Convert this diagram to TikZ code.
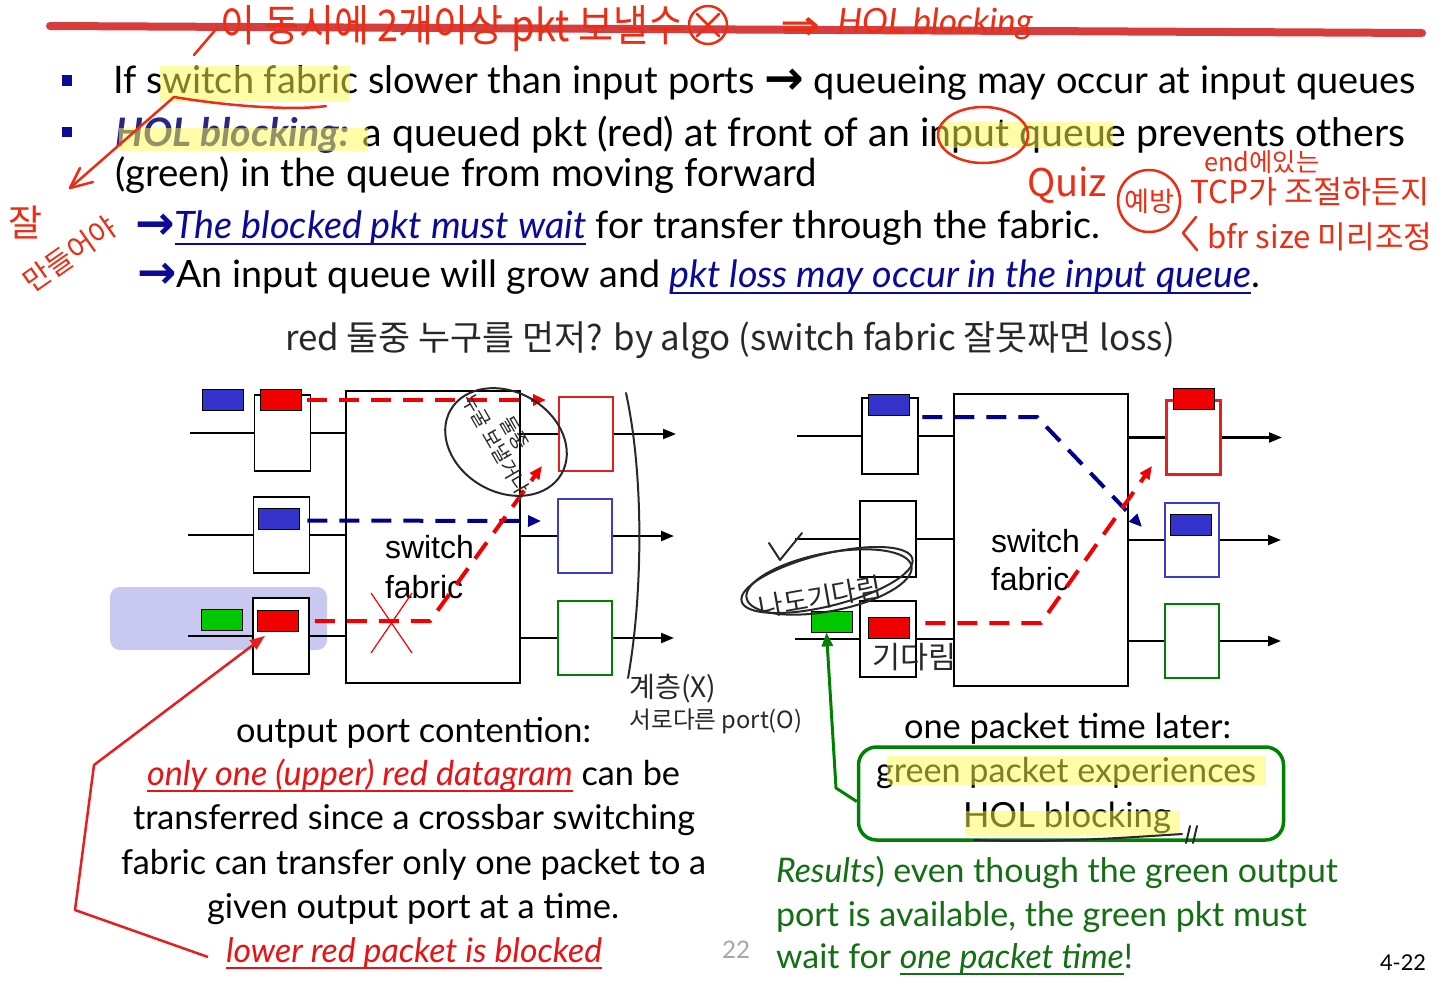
\documentclass[tikz,border=0pt]{standalone}
\usepackage{fontspec}
\setmainfont{Lato}
\newfontfamily\dvs{DejaVu Sans}
\newfontfamily\krf{Noto Sans CJK KR}
\newfontfamily\arf{Liberation Sans}
\usetikzlibrary{arrows.meta,calc}
\definecolor{navy}{RGB}{10,10,150}
\definecolor{holblue}{RGB}{40,40,130}
\definecolor{tred}{RGB}{230,20,20}
\definecolor{pred}{RGB}{240,0,0}
\definecolor{pblue}{RGB}{51,51,204}
\definecolor{pgreen}{RGB}{0,200,0}
\definecolor{tgreen}{RGB}{20,110,20}
\definecolor{ored}{RGB}{230,30,30}
\definecolor{oblue}{RGB}{60,60,200}
\definecolor{ogreen}{RGB}{0,128,0}
\definecolor{dashblue}{RGB}{0,0,140}
\definecolor{penred}{RGB}{235,45,20}
\definecolor{ink}{RGB}{40,40,40}
\definecolor{hl}{RGB}{255,250,80}
\definecolor{strikered}{RGB}{210,40,40}
\definecolor{lav}{RGB}{200,200,240}
\newcommand{\fw}[2]{\resizebox{#1pt}{!}{#2}}
\newcommand{\myul}[1]{\leavevmode\setbox0=\hbox{#1}\rlap{\rule[-7pt]{\wd0}{2pt}}\box0}
\newcommand{\rarr}{\raisebox{-1pt}{\scalebox{1.25}{\dvs\bfseries →}}}
\begin{document}
\fontsize{36}{40}\selectfont
\begin{tikzpicture}[x=1pt,y=-1pt,
  txt/.style={anchor=base west,inner sep=0pt,outer sep=0pt},
  qbox/.style={draw=black,line width=1.3pt,fill=white,minimum width=56pt,minimum height=76pt,inner sep=0pt},
  fab/.style={draw=black,line width=1.3pt,fill=white,minimum width=174pt,minimum height=292pt,inner sep=0pt},
  obox/.style={draw=#1,line width=2.6pt,fill=white,minimum width=54pt,minimum height=74pt,inner sep=0pt},
  pkt/.style={draw=black,line width=0.8pt,fill=#1,minimum width=41pt,minimum height=21pt,inner sep=0pt},
  wire/.style={black,line width=2.2pt},
  outarr/.style={black,line width=2.2pt,-{Triangle[length=13pt,width=10pt]}},
  dsh/.style={line width=4pt,dash pattern=on 20pt off 12pt,-{Triangle[length=13pt,width=11pt]}},
  sf/.style={txt,font=\arf\fontsize{32}{34}\selectfont},
  hand/.style={inner sep=0pt,font=\krf},
  penline/.style={penred,line width=2.5pt,line cap=round,line join=round},
  inkline/.style={ink,line width=2pt,line cap=round,line join=round},
  hlt/.style={hl,opacity=0.5}
]
\fill[white] (0,0) rectangle (1440,991);
\path[use as bounding box] (0,0) rectangle (1440,991);

% ---------- top text ----------
\node[fill=navy,minimum size=10.5pt,inner sep=0pt] (b1) at (67,80.5) {};
\node[fill=navy,minimum size=10.5pt,inner sep=0pt] (b2) at (67,132) {};
\node[txt] (l1) at (113,93) {\fw{1303}{If switch fabric slower than input ports \rarr{} queueing may occur at input queues}};
\node[txt] (l2) at (115,146) {\fw{1290}{{\color{holblue}\bfseries\itshape HOL blocking:} a queued pkt (red) at front of an input queue prevents others}};
\node[txt] (l3) at (115,186) {\fw{702}{(green) in the queue from moving forward}};
\node[txt] (l4) at (135,238) {\fw{965}{{\color{navy}\rarr\itshape\myul{The blocked pkt must wait}} for transfer through the fabric.}};
\node[txt] (l5) at (137,287) {\fw{1123}{{\color{navy}\rarr}An input queue will grow and {\color{navy}\itshape\myul{pkt loss may occur in the input queue}}.}};

% ---------- left diagram ----------
\fill[lav,rounded corners=10pt] (110,587) rectangle (327,650);
\coordinate (li1) at (190,433);
\coordinate (li2) at (188,535);
\coordinate (li3) at (188,636);
\coordinate (la1) at (676,434);
\coordinate (la2) at (674,536);
\coordinate (la3) at (674,638);
\node[fab] (lf) at (433,537) {};
\node[qbox] (lq1) at (282.5,433) {};
\node[qbox] (lq2) at (281.5,535) {};
\node[qbox] (lq3) at (281,636) {};
\node[obox=ored] (lo1) at (586,434) {};
\node[obox=oblue] (lo2) at (585,536) {};
\node[obox=ogreen] (lo3) at (585,638) {};
\draw[wire] (li1) -- (lq1.west);
\draw[wire] (li2) -- (lq2.west);
\draw[wire] (li3) -- (lq3.west);
\draw[wire] (lq1.east) -- (lq1.east -| lf.west);
\draw[wire] (lq2.east) -- (lq2.east -| lf.west);
\draw[wire] (lq3.east) -- (lq3.east -| lf.west);
\draw[wire] (lo1.west -| lf.east) -- (lo1.west);
\draw[wire] (lo2.west -| lf.east) -- (lo2.west);
\draw[wire] (lo3.west -| lf.east) -- (lo3.west);
\draw[outarr] (lo1.east) -- (la1);
\draw[outarr] (lo2.east) -- (la2);
\draw[outarr] (lo3.east) -- (la3);
\node[pkt=pblue] (lb0) at (222.5,400) {};
\node[pkt=pred] (lr1) at (280.5,400) {};
\node[pkt=pblue] (lb2) at (278.5,518.5) {};
\node[pkt=pred] (lr3) at (278,621) {};
\node[pkt=pgreen] (lg3) at (222,619.5) {};
\node[sf] (ls1) at (385,558) {switch};
\node[sf] (ls2) at (385,598) {fabric};
\coordinate (ld1) at (546,400);
\coordinate (ld2) at (541,521);
\coordinate (lk3) at (430,621);
\coordinate (ld3) at (542,466);
\draw[dsh,pred] ([xshift=6pt]lr1.east) -- (ld1);
\draw[dsh,dashblue] ([xshift=8pt,yshift=-2pt]lb2.east) -- (ld2);
\draw[dsh,pred] ([xshift=16pt]lr3.east) -- (lk3) -- (ld3);
\draw[pred,line width=1.2pt] (371,593) -- (412,653) (412,593) -- (371,653);

% ---------- right diagram ----------
\coordinate (ri1) at (797,436);
\coordinate (ri2) at (795,539);
\coordinate (ri3) at (795,639);
\coordinate (ra1) at (1282,437.5);
\coordinate (ra2) at (1281,540);
\coordinate (ra3) at (1281,641);
\node[fab] (rf) at (1041,540) {};
\node[qbox] (rq1) at (890,436) {};
\node[qbox] (rq2) at (888,539) {};
\node[qbox] (rq3) at (888,639) {};
\node[obox=ored] (ro1) at (1193.5,437.5) {};
\node[obox=oblue] (ro2) at (1192,540) {};
\node[obox=ogreen] (ro3) at (1192,641) {};
\draw[wire] (ri1) -- (rq1.west);
\draw[wire] (ri2) -- (rq2.west);
\draw[wire] (ri3) -- (rq3.west);
\draw[wire] (rq1.east) -- (rq1.east -| rf.west);
\draw[wire] (rq2.east) -- (rq2.east -| rf.west);
\draw[wire] (rq3.east) -- (rq3.east -| rf.west);
\draw[wire] (ro1.west -| rf.east) -- (ro1.west);
\draw[wire] (ro2.west -| rf.east) -- (ro2.west);
\draw[wire] (ro3.west -| rf.east) -- (ro3.west);
\draw[outarr] (ro1.east) -- (ra1);
\draw[outarr] (ro2.east) -- (ra2);
\draw[outarr] (ro3.east) -- (ra3);
\node[pkt=pblue] (rb1) at (888.5,405) {};
\node[pkt=pred] (rro1) at (1193.5,399) {};
\node[pkt=pblue] (rbo2) at (1191,525) {};
\node[pkt=pred] (rr3) at (888.5,627.5) {};
\node[pkt=pgreen] (rg3) at (831.5,621.5) {};
\node[sf] (rs1) at (991,552) {switch};
\node[sf] (rs2) at (991,590) {fabric};
\coordinate (rk1) at (1037,417);
\coordinate (rd1) at (1142,527);
\coordinate (rk3) at (1041,623);
\coordinate (rd3) at (1152,466);
\draw[dsh,dashblue] ([xshift=13pt,yshift=-12pt]rb1.east) -- (rk1) -- (rd1);
\draw[dsh,pred] ([xshift=16pt,yshift=4.5pt]rr3.east) -- (rk3) -- (rd3);

% ---------- bottom texts ----------
\node[txt] (t1) at (236,742) {\fw{355}{output port contention:}};
\node[txt] (t2) at (147,785) {\fw{533}{{\color{tred}\itshape\myul{only one (upper) red datagram}} can be}};
\node[txt] (t3) at (133,829) {\fw{562}{transferred since a crossbar switching}};
\node[txt] (t4) at (121,874) {\fw{585}{fabric can transfer only one packet to a}};
\node[txt] (t5) at (207,918) {\fw{412}{given output port at a time.}};
\node[txt] (t6) at (226,962) {\fw{376}{{\color{tred}\itshape\myul{lower red packet is blocked}}}};
\coordinate (rc1) at (208,957);
\coordinate (rc2) at (75,910);
\coordinate (rc3) at (94,765);
\draw[ored,line width=2.5pt,line join=round,-{Triangle[length=15pt,width=11pt]}] (rc1) -- (rc2) -- (rc3) -- ([xshift=-13pt,yshift=-4pt]lr3.south);

\node[draw=ogreen,line width=3.5pt,rounded corners=18pt,minimum width=425pt,minimum height=93pt,inner sep=0pt] (gb) at (1071,793.5) {};
\coordinate (gk) at (836,788);
\draw[ogreen,line width=3pt,line join=round,-{Triangle[length=14pt,width=11pt]}] ([yshift=-8pt]gb.west) -- (gk) -- ([xshift=-5pt]rg3.south);
\node[txt] (r1) at (904,738) {\fw{327}{one packet time later:}};
\node[txt] (r2) at (876,782) {\fw{380}{green packet experiences}};
\node[txt] (r3) at (963,827) {\fw{208}{HOL blocking}};
\node[txt] (r4) at (776,882) {\fw{562}{\color{tgreen}{\itshape Results}) even though the green output}};
\node[txt] (r5) at (776,926) {\fw{531}{\color{tgreen}port is available, the green pkt must}};
\node[txt] (r6) at (776,968) {\fw{357}{\color{tgreen}wait for {\itshape\myul{one packet time}}!}};
\node[txt] (pg) at (1380,970) {\fw{46}{4-22}};
\node[txt,text=black!35] (pn) at (722,958) {\fw{28}{22}};

% ---------- highlights ----------
\fill[hlt] (160,66) rectangle (350,102);
\fill[hlt] (119,128) rectangle (368,151);
\fill[hlt] (940,122) rectangle (1113,148);
\fill[hlt] (887,756) rectangle (1266,785);
\fill[hlt] (965,811) rectangle (1180,836);

% ---------- handwritten notes ----------
\draw[strikered,line width=8pt,line cap=round,opacity=0.9] (50,26) -- (1422,33);
\draw[penline] (194,55) -- (217,28);
\node[hand,text=penred] (h1) at (452,28) {\resizebox{462pt}{36pt}{이 동시에 2개이상 pkt 보낼수}};
\draw[penline] (708,25) circle (19pt);
\draw[penline] (697,14) -- (719,36) (719,14) -- (697,36);
\node[hand,text=penred] (h2) at (800,28) {\resizebox{40pt}{22pt}{\dvs\bfseries ⇒}};
\node[hand,text=penred] (h3) at (935,24) {\fw{195}{\rmfamily\itshape HOL blocking}};
\draw[penline] (174,97) .. controls (240,108) and (300,110) .. (326,106);
\draw[penline] (174,97) -- (70,188);
\draw[penline] (93,182) -- (70,188) -- (80,168);
\node[hand,text=penred] (h4) at (26,222) {\fw{34}{잘}};
\node[hand,text=penred,rotate=35] (h5) at (70,254) {\fw{106}{만들어야}};
\draw[penline] (983,135) ellipse [x radius=45pt,y radius=28pt];
\node[hand,text=penred] (h6) at (1067,185) {\fw{80}{Quiz}};
\node[draw=penred,line width=2.5pt,circle,minimum size=62pt,inner sep=0pt] (h7c) at (1149,201) {};
\node[hand,text=penred] (h7) at (1149,201) {\fw{50}{예방}};
\node[hand,text=penred] (h8) at (1262,162) {\fw{115}{end에있는}};
\node[hand,text=penred] (h9) at (1310,192) {\fw{240}{TCP가 조절하든지}};
\draw[penline] (1196,217) -- (1183,233) -- (1197,250);
\node[hand,text=penred] (h10) at (1320,237) {\fw{225}{bfr size 미리조정}};

\node[hand,text=ink] (h11) at (730,340) {\fw{890}{red 둘중 누구를 먼저? by algo (switch fabric 잘못짜면 loss)}};
\draw[inkline,rotate around={-30:(506,442)}] (506,442) ellipse [x radius=64pt,y radius=50pt];
\node[hand,text=ink,rotate=-60] (h12) at (503,440) {\fw{112}{\begin{tabular}{@{}c@{}}둘중\\누굴 보낼거냐\end{tabular}}};
\draw[inkline] (626,393) .. controls (645,480) and (642,600) .. (628,678);
\node[hand,text=ink] (h13) at (673,689) {\fw{87}{계층(X)}};
\node[hand,text=ink] (h14) at (716,721) {\fw{173}{서로다른 port(O)}};
\draw[inkline] (769,543) -- (780,560) -- (802,533);
\draw[inkline,rotate around={14:(827,580)}] (827,580) ellipse [x radius=88pt,y radius=26pt];
\draw[inkline,rotate around={11:(829,582)}] (829,582) ellipse [x radius=84pt,y radius=29pt];
\node[hand,text=ink,rotate=10] (h15) at (820,597) {\fw{124}{나도기다림}};
\node[hand,text=ink] (h16) at (914,657) {\fw{84}{기다림}};
\draw[inkline] (974,840) .. controls (1050,843) and (1120,838) .. (1182,834);
\draw[inkline] (1186,843) -- (1190,826) (1193,843) -- (1197,826);
\end{tikzpicture}
\end{document}
